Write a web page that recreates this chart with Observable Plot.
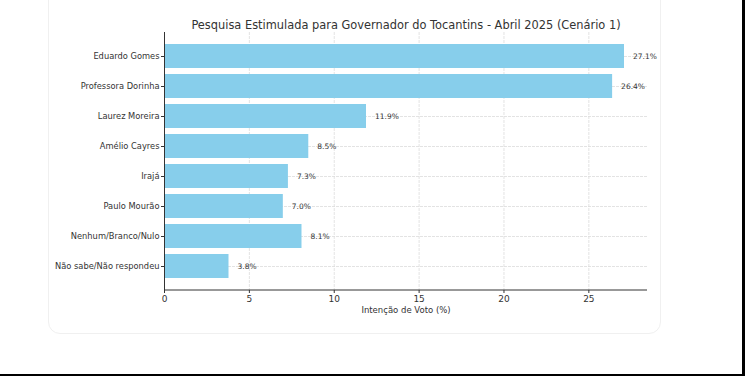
<!DOCTYPE html>
<html>
<head>
<meta charset="utf-8">
<script src="https://cdn.jsdelivr.net/npm/d3@7"></script>
<script src="https://cdn.jsdelivr.net/npm/@observablehq/plot@0.6"></script>
<style>
  html, body { margin: 0; padding: 0; background: #fff; }
  #wrap { position: relative; width: 745px; height: 376px; overflow: hidden; font-family: "DejaVu Sans", sans-serif; }
  #card { position: absolute; left: 48px; top: -20px; width: 613px; height: 354px; border: 1px solid #f0f0f0; border-radius: 12px; box-sizing: border-box; }
  #edgeB { position: absolute; left: 0; top: 374px; width: 745px; height: 2px; background: #000; }
  #edgeR { position: absolute; left: 742px; top: 0; width: 3px; height: 376px; background: #000; }
  #chart { position: absolute; left: 0; top: 0; }
</style>
</head>
<body>
<div id="wrap">
  <div id="card"></div>
  <div id="chart"></div>
  <div id="edgeB"></div>
  <div id="edgeR"></div>
</div>
<script>
const categories = ["Eduardo Gomes", "Professora Dorinha", "Laurez Moreira", "Amélio Cayres", "Irajá", "Paulo Mourão", "Nenhum/Branco/Nulo", "Não sabe/Não respondeu"];
const values = [27.1, 26.4, 11.9, 8.5, 7.3, 7.0, 8.1, 3.8];
const xTicks = [0, 5, 10, 15, 20, 25];
const title = "Pesquisa Estimulada para Governador do Tocantins - Abril 2025 (Cenário 1)";
const xLabel = "Intenção de Voto (%)";

const data = categories.map((c, i) => ({name: c, value: values[i]}));
const xMax = d3.max(values) * 1.05;

const chart = Plot.plot({
  width: 745,
  height: 376,
  marginLeft: 164,
  marginRight: 98,
  marginTop: 32,
  marginBottom: 86,
  style: {fontFamily: "DejaVu Sans, sans-serif", background: "transparent", color: "#333"},
  x: {domain: [0, xMax], ticks: xTicks, label: null},
  y: {domain: categories, padding: 0.2, paddingOuter: 0.39, label: null},
  marks: [
    Plot.gridX(xTicks, {stroke: "#dcdcdc", strokeOpacity: 1, strokeDasharray: "3,1", strokeWidth: 0.8}),
    Plot.gridY({stroke: "#dcdcdc", strokeOpacity: 1, strokeDasharray: "3,1", strokeWidth: 0.8}),
    Plot.barX(data, {x: "value", y: "name", fill: "#87CEEB"}),
    Plot.text(data, {x: d => d.value + 0.5, y: "name", text: d => d.value.toFixed(1) + "%", textAnchor: "start", fontSize: 7.5, fill: "#333"}),
    Plot.ruleX([0], {stroke: "#333", strokeWidth: 1}),
    Plot.axisY({tickSize: 3, tickPadding: 2, fontSize: 8.3, label: null, stroke: "#333"}),
    Plot.axisX(xTicks, {tickSize: 3, tickPadding: 2, fontSize: 9, label: null, stroke: "#333"}),
    Plot.text([xLabel], {frameAnchor: "bottom", dy: 22, fontSize: 8.5, fill: "#333"}),
    Plot.text([title], {frameAnchor: "top", dy: -12, fontSize: 11.4, fill: "#333"})
  ]
});
document.getElementById("chart").appendChild(chart);

// bottom spine
d3.select(chart).append("line")
  .attr("x1", 164).attr("x2", 647)
  .attr("y1", 290).attr("y2", 290)
  .attr("stroke", "#333").attr("stroke-width", 1);
</script>
</body>
</html>
